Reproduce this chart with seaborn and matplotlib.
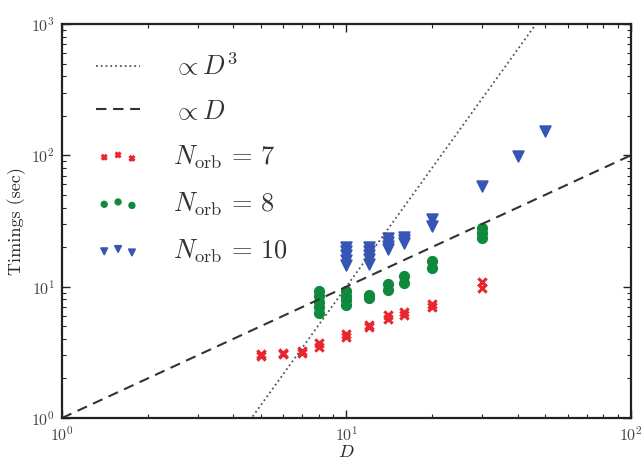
import numpy as np
import pandas as pd
import matplotlib
matplotlib.use("Agg")
import matplotlib.pyplot as plt
import seaborn as sns

# ---- data ----
d_n7 = [5, 5, 6, 6, 7, 7, 8, 8, 10, 10, 12, 12, 14, 14, 16, 16, 20, 20, 30, 30]
t_n7 = [2.95, 3.05, 3.05, 3.15, 3.1, 3.25, 3.5, 3.7, 4.15, 4.35, 4.9, 5.1,
        5.7, 6.05, 6.1, 6.4, 7.0, 7.4, 9.8, 10.8]

d_n8 = [8, 8, 8, 8, 8, 10, 10, 10, 10, 12, 12, 14, 14, 16, 16, 20, 20, 30, 30, 30]
t_n8 = [6.3, 7.0, 7.7, 8.5, 9.2, 7.3, 7.9, 8.5, 9.2, 8.2, 8.6, 9.5, 10.4,
        10.6, 12.0, 13.8, 15.6, 23.3, 25.5, 28.0]

d_n10 = [10, 10, 10, 10, 10, 12, 12, 12, 12, 12, 14, 14, 14, 14, 16, 16, 16,
         20, 20, 30, 40, 50]
t_n10 = [14.7, 16.0, 17.3, 18.7, 20.2, 15.0, 16.2, 17.5, 18.7, 20.0,
         19.2, 20.5, 22.0, 23.6, 21.5, 22.7, 24.0, 29.0, 32.5, 58.6, 99.4, 154.0]

line_d = [1.0, 100.0]
cubic_coef = 0.01
linear_coef = 1.0

labels = [r'$\propto D^3$', r'$\propto D$', r'$N_{\rm orb} \,=\, 7$',
          r'$N_{\rm orb} \,=\, 8$', r'$N_{\rm orb} \,=\, 10$']

sns.set_style("ticks")
plt.rcParams['font.family'] = ['cmr10', 'DejaVu Serif']
plt.rcParams['mathtext.fontset'] = 'cm'
plt.rcParams['axes.formatter.use_mathtext'] = True
plt.rcParams['axes.unicode_minus'] = False

fig = plt.figure(figsize=(6.41, 4.62), dpi=100)
ax = fig.add_axes([0.0967, 0.0952, 0.8873, 0.8528])

df7 = pd.DataFrame({"D": d_n7, "t": t_n7})
df8 = pd.DataFrame({"D": d_n8, "t": t_n8})
df10 = pd.DataFrame({"D": d_n10, "t": t_n10})
ld = np.array(line_d)
dfl = pd.DataFrame({"D": ld, "cub": cubic_coef * ld ** 3, "lin": linear_coef * ld})

ax.plot(dfl["D"], dfl["cub"], linestyle=':', color='#555555', lw=1.3, label=labels[0])
ax.plot(dfl["D"], dfl["lin"], color='#333333', lw=1.5, dashes=(5, 3.2), label=labels[1])

red, green, blue = '#e8262e', '#0f8a3c', '#3655b4'
sns.scatterplot(data=df7, x="D", y="t", ax=ax, marker='x', s=36, color=red,
                linewidth=2.2, label=labels[2], zorder=1)
sns.scatterplot(data=df8, x="D", y="t", ax=ax, marker='o', s=50, color=green,
                edgecolor=green, linewidth=1.0, label=labels[3], zorder=1)
sns.scatterplot(data=df10, x="D", y="t", ax=ax, marker='v', s=60, color=blue,
                edgecolor=blue, linewidth=1.2, label=labels[4], zorder=1)

ax.set_xscale('log')
ax.set_yscale('log')
ax.set_xlim(1, 100)
ax.set_ylim(1, 1000)

ax.set_xlabel(r'$D$', fontsize=13, labelpad=0)
ax.set_ylabel('Timings (sec)', fontsize=13, labelpad=4)

for sp in ax.spines.values():
    sp.set_linewidth(1.6)
    sp.set_color('#222222')
ax.tick_params(which='both', direction='in', top=True, right=True, colors='#222222',
               labelcolor='#444444', labelsize=11.5)
ax.tick_params(which='major', length=6, width=1.0, pad=5)
ax.tick_params(which='minor', length=3, width=0.8)

leg = ax.legend(loc='upper left', bbox_to_anchor=(0.0, 1.015), frameon=False,
                fontsize=19, scatterpoints=3, markerscale=0.6,
                handlelength=1.65, handletextpad=1.25, labelspacing=0.74,
                borderaxespad=0.9)
for t in leg.get_texts():
    t.set_color('#333333')

fig.savefig("out.png", dpi=100)
